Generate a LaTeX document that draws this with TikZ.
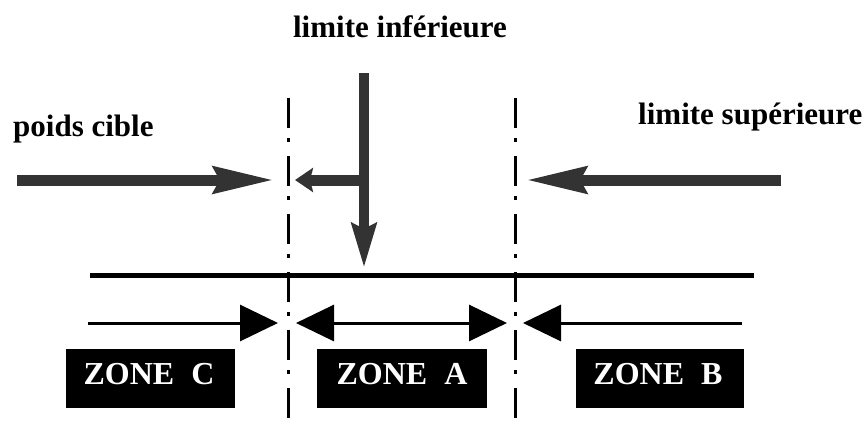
\documentclass[tikz,border=0pt]{standalone}
\usepackage{fontspec}
\setmainfont{Liberation Serif}
\usetikzlibrary{arrows.meta}
\tikzset{ztri/.tip={Triangle[length=38pt, width=36pt]}}
\colorlet{scangray}{black!80}
\begin{document}
\begin{tikzpicture}[x=1pt,y=-1pt,
  lbl/.style={font=\fontsize{31}{31}\selectfont\bfseries, inner sep=0pt},
  bigarrow/.style={draw=scangray, line width=11pt,
    -{Stealth[length=#1, width=26pt, inset=6pt, fill=scangray]}},
  dashdot/.style={line width=3pt, dash pattern=on 30pt off 10pt on 4pt off 14pt},
  thinarrow/.style={line width=3pt},
  zonebox/.style={fill=black, minimum width=#1, minimum height=59pt, inner sep=0pt},
  zonetext/.style={font=\fontsize{32}{32}\selectfont\bfseries, text=white, inner sep=0pt, anchor=base}
]
\useasboundingbox (0,0) rectangle (868,429);

% labels
\node[lbl, anchor=base] (linf) at (400,37) {limite inférieure};
\node[lbl, anchor=base west] (pc) at (13,136) {poids cible};
\node[lbl, anchor=base west] (lsup) at (638,124) {limite supérieure};

% coordinates
\coordinate (dl1) at (288,98);  \coordinate (dl2) at (288,418);
\coordinate (dr1) at (515,98);  \coordinate (dr2) at (515,418);
\coordinate (va1) at (364,73);  \coordinate (va2) at (364,268);
\coordinate (sa1) at (369,180); \coordinate (sa2) at (295,180);
\coordinate (la1) at (17,180);  \coordinate (la2) at (274,180);
\coordinate (ra1) at (781,180); \coordinate (ra2) at (526,180);
\coordinate (hl1) at (90,275);  \coordinate (hl2) at (754,275);
\coordinate (a1s) at (88,323);  \coordinate (a1e) at (278,323);
\coordinate (a2s) at (296,323); \coordinate (a2e) at (507,323);
\coordinate (a3s) at (742,323); \coordinate (a3e) at (523,323);

% dash-dot boundaries
\draw[dashdot] (dl1) -- (dl2);
\draw[dashdot] (dr1) -- (dr2);

% thick gray arrows
\draw[bigarrow=60pt] (la1) -- (la2);
\draw[bigarrow=60pt] (ra1) -- (ra2);
\draw[draw=scangray, line width=10pt,
  -{Stealth[length=44pt, width=24pt, inset=5pt, fill=scangray]}] (va1) -- (va2);
\draw[draw=scangray, line width=11pt,
  -{Stealth[length=18pt, width=24pt, inset=3pt, fill=scangray]}] (sa1) -- (sa2);

% horizontal line
\draw[line width=5pt] (hl1) -- (hl2);

% thin arrows
\draw[thinarrow, -{ztri}] (a1s) -- (a1e);
\draw[thinarrow, {ztri}-{ztri}] (a2s) -- (a2e);
\draw[thinarrow, -{ztri}] (a3s) -- (a3e);

% zone boxes
\node[zonebox=169pt] (zc) at (150.5,378.5) {};
\node[zonebox=170pt] (za) at (402,378) {};
\node[zonebox=168pt] (zb) at (660,378.5) {};
\node[zonetext] (tc) at (149,384) {ZONE\hspace{17pt}C};
\node[zonetext] (ta) at (402,384) {ZONE\hspace{17pt}A};
\node[zonetext] (tb) at (658,384) {ZONE\hspace{17pt}B};
\end{tikzpicture}
\end{document}
